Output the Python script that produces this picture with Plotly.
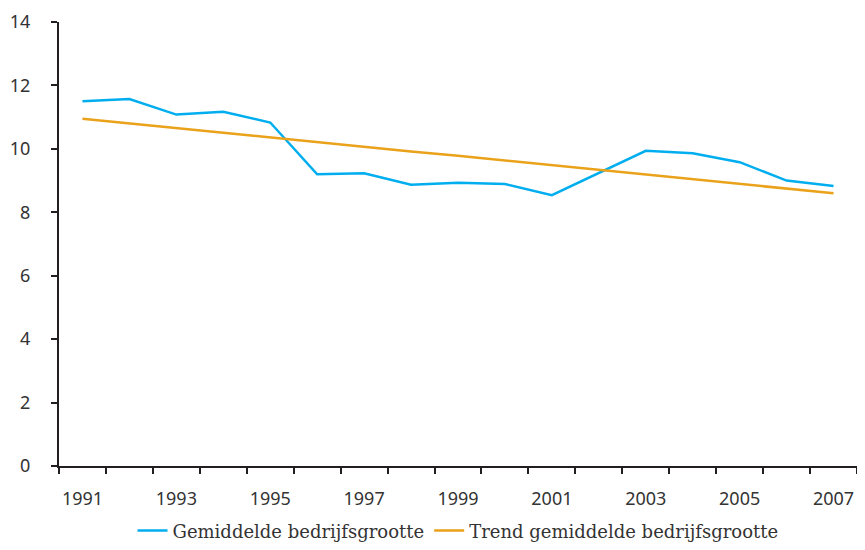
import plotly.graph_objects as go

# gemiddelde bedrijfsgrootte per jaar
jaren = list(range(1991, 2008))
gemiddeld = [11.50, 11.57, 11.08, 11.17, 10.83, 9.20, 9.23, 8.87, 8.93, 8.89,
             8.54, 9.24, 9.94, 9.86, 9.58, 9.00, 8.83]
trend = [10.95, 10.80, 10.66, 10.51, 10.36, 10.22, 10.07, 9.92, 9.78, 9.63,
         9.48, 9.34, 9.19, 9.04, 8.89, 8.75, 8.60]

label_jaren = [1991, 1993, 1995, 1997, 1999, 2001, 2003, 2005, 2007]
y_ticks = [0, 2, 4, 6, 8, 10, 12, 14]

fig = go.Figure()
fig.add_trace(go.Scatter(x=jaren, y=gemiddeld, mode="lines",
                         name="Gemiddelde bedrijfsgrootte",
                         line=dict(color="#00AEEF", width=2.5)))
fig.add_trace(go.Scatter(x=jaren, y=trend, mode="lines",
                         name="Trend gemiddelde bedrijfsgrootte",
                         line=dict(color="#E9A21A", width=2.5)))

# page body has an 8px margin, keep the figure inside the window
fig.update_layout(
    width=849, height=534,
    margin=dict(l=51, r=0, t=14, b=76, autoexpand=False),
    plot_bgcolor="white", paper_bgcolor="white",
    font=dict(family="Noto Sans", size=18, color="#333333"),
    legend=dict(orientation="h", x=0.5, xanchor="center", y=-0.146, yanchor="middle",
                font=dict(family="DejaVu Serif", size=18, color="#333333"),
                traceorder="normal"),
    showlegend=True,
)
fig.update_xaxes(
    range=[1990.5, 2007.5], automargin=False,
    tickvals=label_jaren, ticktext=[str(j) for j in label_jaren],
    ticks="", showgrid=False, zeroline=False,
    showline=True, linecolor="#231f20", linewidth=2,
    ticklabelstandoff=15,
    minor=dict(ticks="outside", tick0=1990.5, dtick=1, ticklen=6,
               tickwidth=2, tickcolor="#231f20", showgrid=False),
)
fig.update_yaxes(
    range=[0, 14], tickvals=y_ticks, automargin=False,
    ticks="outside", ticklen=6, tickwidth=2, tickcolor="#231f20",
    showgrid=False, zeroline=False,
    showline=True, linecolor="#231f20", linewidth=2,
    ticklabelstandoff=17,
)

fig.write_html("out.html")
